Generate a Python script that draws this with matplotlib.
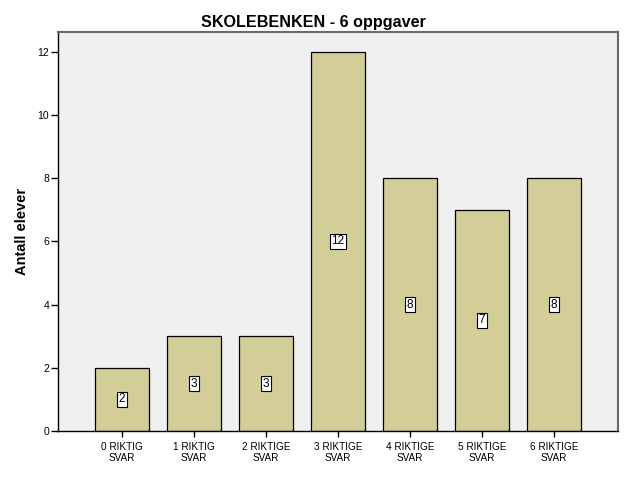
import matplotlib.pyplot as plt

plt.rcParams['font.family'] = ['Liberation Sans', 'DejaVu Sans']

categories = ["0 RIKTIG\nSVAR", "1 RIKTIG\nSVAR", "2 RIKTIGE\nSVAR", "3 RIKTIGE\nSVAR",
              "4 RIKTIGE\nSVAR", "5 RIKTIGE\nSVAR", "6 RIKTIGE\nSVAR"]
counts = [2, 3, 3, 12, 8, 7, 8]

fig = plt.figure(figsize=(6.26, 5.01), dpi=100)
ax = fig.add_axes([0.0927, 0.1397, 0.8945, 0.7963])
ax.set_facecolor('#F0F0F0')

x = range(len(categories))
bars = ax.bar(x, counts, width=0.75, color='#D3CE97', edgecolor='black', linewidth=0.9, zorder=2)

for xi, v in zip(x, counts):
    ax.text(xi, v / 2, str(v), ha='center', va='center', fontsize=8.5, zorder=3,
            bbox=dict(boxstyle='square,pad=0.15', facecolor='white', edgecolor='black', linewidth=0.8))

ax.set_xlim(-0.89, 6.89)
ax.set_ylim(0, 12.63)
ax.set_yticks([0, 2, 4, 6, 8, 10, 12])
ax.set_xticks(list(x))
ax.set_xticklabels(categories, fontsize=7.2, linespacing=1.05)
ax.tick_params(axis='y', labelsize=7.5, length=5, width=1, direction='out', pad=1.5)
ax.tick_params(axis='x', length=4, width=1, direction='out', pad=4)

for side in ['left', 'bottom']:
    ax.spines[side].set_color('black')
    ax.spines[side].set_linewidth(1)
for side in ['top', 'right']:
    ax.spines[side].set_color('#6A6A6A')
    ax.spines[side].set_linewidth(1.5)

ax.set_ylabel('Antall elever', fontsize=10.5, fontweight='bold', labelpad=6)
fig.text(0.5, 0.946, 'SKOLEBENKEN - 6 oppgaver', ha='center', va='baseline',
         fontsize=11.6, fontweight='bold')

fig.savefig('out.png', dpi=100)
